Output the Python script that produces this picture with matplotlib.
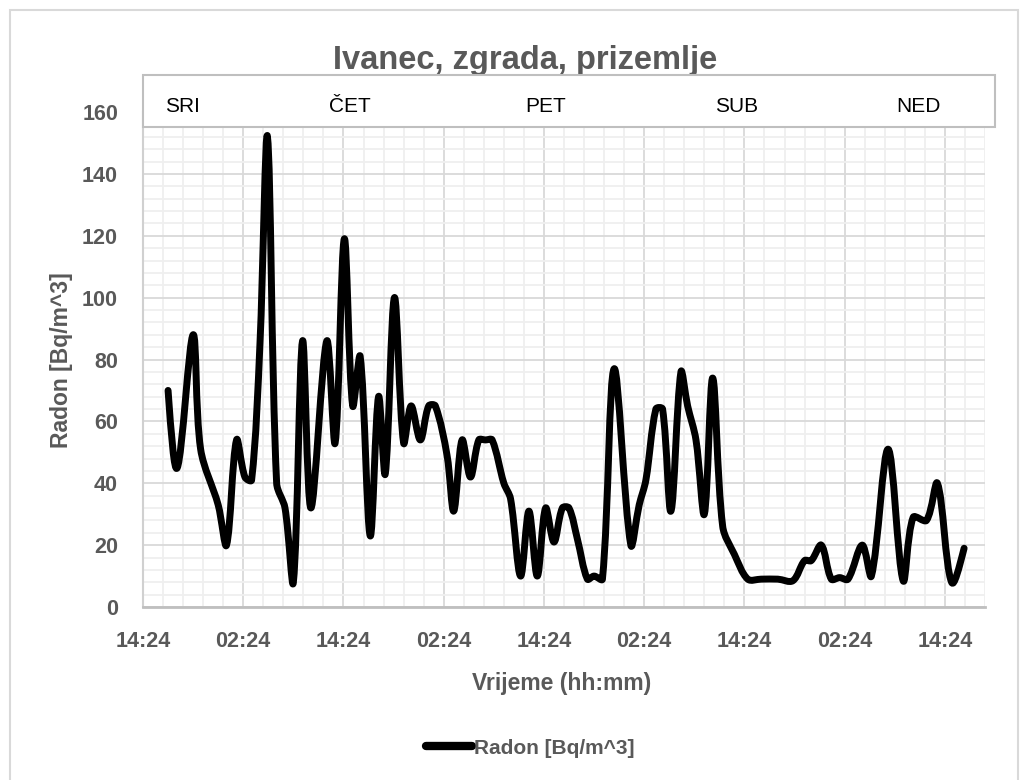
import matplotlib
matplotlib.use("Agg")
import matplotlib.pyplot as plt
import numpy as np
from matplotlib.path import Path
from matplotlib.patches import PathPatch, Rectangle
from matplotlib.lines import Line2D

# ---- data (hours after 14:24 on the first day, radon in Bq/m^3) ----
hours = [3.0, 4.1, 6.0, 6.9, 9.0, 10.0, 11.2, 12.2, 13.0, 14.0, 14.9, 16.0, 17.0, 18.0,
         19.1, 20.1, 22.0, 23.0, 24.1, 25.1, 26.0, 27.2, 28.2, 29.0, 30.1, 31.2, 32.1,
         33.2, 34.2, 35.0, 36.4, 37.2, 38.2, 39.2, 40.2, 41.0, 41.8, 43.2, 44.0, 45.2,
         46.2, 47.2, 48.2, 49.2, 50.2, 51.0, 52.0, 53.2, 54.0, 55.0, 56.4, 58.4, 59.4,
         60.2, 61.4, 62.2, 63.2, 64.4, 65.2, 66.2, 67.2, 68.2, 69.4, 70.8, 72.4, 74.0,
         76.0, 77.8, 79.2, 80.0, 81.2, 82.4, 83.4, 84.4, 86.1, 87.2, 89.2, 91.0, 92.2,
         93.8, 95.1, 96.8, 98.3]
radon = [70, 45, 88, 51, 33, 20, 54, 42, 41, 85, 152, 40, 32, 8,
         86, 32, 86, 53, 119, 65, 81, 23, 68, 43, 100, 53, 65,
         54, 65, 65, 49, 31, 54, 42, 54, 54, 54, 40, 35, 10,
         31, 10, 32, 21, 32, 32, 22, 9, 10, 9, 77, 20, 33,
         41, 64, 64, 31, 76, 65, 54, 30, 74, 26, 17, 9, 9,
         9, 8.5, 15, 15, 20, 9, 9.5, 9, 20, 10, 51, 8.5, 29,
         28, 40, 8, 19]

xtick_hours = [0, 12, 24, 36, 48, 60, 72, 84, 96]
xtick_labels = ["14:24", "02:24", "14:24", "02:24", "14:24", "02:24", "14:24", "02:24", "14:24"]
days = ["SRI", "ČET", "PET", "SUB", "NED"]
day_x_px = [182, 350, 546, 737, 918]

title = "Ivanec, zgrada, prizemlje"
xlabel = "Vrijeme (hh:mm)"
ylabel = "Radon [Bq/m^3]"
series_name = "Radon [Bq/m^3]"

# ---- figure ----
W, H = 1028, 780
plt.rcParams['font.family'] = ['Liberation Sans', 'DejaVu Sans']
fig = plt.figure(figsize=(W / 100, H / 100), dpi=100)
fig.patch.set_facecolor("white")

def fx(px):
    return px / W

def fy(py):
    return 1 - py / H

AX_L, AX_R, AX_T, AX_B = 143, 985, 112, 607
XMAX, YMAX = 100.8, 160
ax = fig.add_axes([fx(AX_L), fy(AX_B), fx(AX_R) - fx(AX_L), fy(AX_T) - fy(AX_B)])
ax.set_xlim(0, XMAX)
ax.set_ylim(0, YMAX)

ax.set_xticks(xtick_hours)
ax.set_xticklabels(xtick_labels)
ax.set_xticks(np.arange(0, XMAX + 0.01, 2.4), minor=True)
ax.set_yticks(np.arange(0, YMAX + 1, 20))
ax.set_yticks(np.arange(0, YMAX + 1, 4), minor=True)

ax.grid(which="minor", color="#efefef", lw=1.3, zorder=0)
ax.grid(which="major", color="#d9d9d9", lw=1.3, zorder=0)
ax.set_axisbelow(True)

text_gray = "#595959"
ax.tick_params(which="both", length=0)
ax.tick_params(axis="x", pad=17, labelsize=15.5, labelcolor=text_gray)
ax.tick_params(axis="y", pad=18, labelsize=15.5, labelcolor=text_gray)
for lab in ax.get_xticklabels() + ax.get_yticklabels():
    lab.set_fontweight("bold")

for s in ["top", "right"]:
    ax.spines[s].set_visible(False)
ax.spines["bottom"].set_color("#bfbfbf")
ax.spines["bottom"].set_linewidth(2)
ax.spines["left"].set_color("#d0d0d0")
ax.spines["left"].set_linewidth(1.5)

# smoothed line: Bezier curve through the data points, with control handles
# scaled by neighbouring segment lengths in screen space (Excel-like smoothing)
sx = (AX_R - AX_L) / XMAX
sy = (AX_B - AX_T) / YMAX
P = np.column_stack([np.array(hours) * sx, np.array(radon, float) * sy])
n = len(P)
k = 1.0 / 3.0
c_in = P.copy()
c_out = P.copy()
for i in range(1, n - 1):
    d0 = np.linalg.norm(P[i] - P[i - 1])
    d1 = np.linalg.norm(P[i + 1] - P[i])
    T = P[i + 1] - P[i - 1]
    c_out[i] = P[i] + T * k * d1 / (d0 + d1)
    c_in[i] = P[i] - T * k * d0 / (d0 + d1)
c_out[0] = P[0] + (c_in[1] - P[0]) * 0.5
c_in[-1] = P[-1] + (c_out[-2] - P[-1]) * 0.5
verts = [P[0]]
codes = [Path.MOVETO]
for i in range(n - 1):
    verts += [c_out[i], c_in[i + 1], P[i + 1]]
    codes += [Path.CURVE4] * 3
verts = np.array(verts) / np.array([sx, sy])
patch = PathPatch(Path(verts, codes), facecolor="none", edgecolor="black", lw=5,
                  capstyle="round", joinstyle="round", zorder=3, clip_on=False)
ax.add_patch(patch)

ax.set_xlabel(xlabel, fontsize=16.5, fontweight="bold", color=text_gray)
ax.set_ylabel(ylabel, fontsize=16.5, fontweight="bold", color=text_gray)
ax.xaxis.set_label_coords((fx(562) - fx(AX_L)) / (fx(AX_R) - fx(AX_L)),
                          (fy(672) - fy(AX_B)) / (fy(AX_T) - fy(AX_B)))
ax.yaxis.set_label_coords((fx(73) - fx(AX_L)) / (fx(AX_R) - fx(AX_L)),
                          (fy(360) - fy(AX_B)) / (fy(AX_T) - fy(AX_B)))

# title
fig.text(fx(525), fy(61), title, ha="center", va="center", fontsize=23.5,
         fontweight="bold", color=text_gray)

# day box
box = Rectangle((fx(143), fy(127)), fx(995) - fx(143), fy(75) - fy(127),
                transform=fig.transFigure, facecolor="white", edgecolor="#bfbfbf",
                lw=1.5, zorder=5)
fig.add_artist(box)
for d, xp in zip(days, day_x_px):
    t = fig.text(fx(xp), fy(107), d, ha="center", va="center", fontsize=15,
                 color="black")
    t.set_zorder(6)

# outer chart border
border = Rectangle((fx(10), -0.05), fx(1018) - fx(10), fy(10) + 0.05,
                   transform=fig.transFigure, facecolor="none", edgecolor="#d9d9d9",
                   lw=1.5, zorder=0)
fig.add_artist(border)

# legend
handle = Line2D([], [], color="black", lw=6, solid_capstyle="round")
fig.legend([handle], [series_name], loc="center", bbox_to_anchor=(fx(530), fy(748)),
           frameon=False, handlelength=2.2, handletextpad=0.1,
           prop={"size": 15, "weight": "bold"}, labelcolor=text_gray)

fig.savefig("out.png", dpi=100, facecolor="white")
